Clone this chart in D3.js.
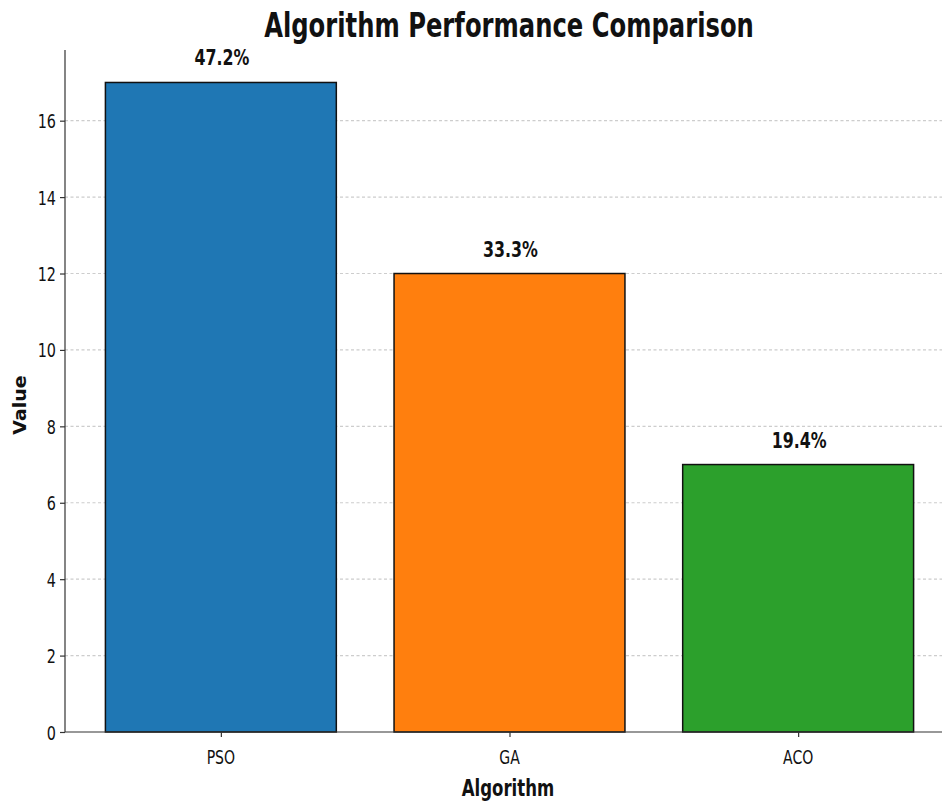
<!DOCTYPE html>
<html><head><meta charset="utf-8">
<script src="https://cdn.jsdelivr.net/npm/d3@7"></script>
<style>body{margin:0;background:#fff}svg{display:block}text{font-family:"DejaVu Sans",sans-serif}</style>
</head><body>
<svg id="c" width="942" height="801"></svg>
<script>
const categories = ["PSO", "GA", "ACO"];
const values = [17, 12, 7];
const colors = ["#1f77b4", "#ff7f0e", "#2ca02c"];
const yTicks = [0, 2, 4, 6, 8, 10, 12, 14, 16];
const titleText = "Algorithm Performance Comparison";
const xLabel = "Algorithm";
const yLabel = "Value";

const total = d3.sum(values);
const svg = d3.select("#c");
const SX = 0.72;
const x = d3.scaleLinear().domain([-0.54, categories.length - 1 + 0.54]).range([65, 954]);
const y = d3.scaleLinear().domain([0, d3.max(values) * 1.05]).range([732, 50]);
const bw = x(0.8) - x(0);

function txt(g, xx, yy, s, size, weight, anchor) {
  return g.append("text")
    .attr("transform", `translate(${xx},${yy}) scale(${SX},1)`)
    .attr("text-anchor", anchor || "middle")
    .style("font-size", size + "px")
    .style("font-weight", weight || "normal")
    .attr("fill", "#111")
    .text(s);
}

// grid
svg.append("g").selectAll("line").data(yTicks.filter(d => d > 0)).join("line")
  .attr("x1", 65).attr("x2", 942)
  .attr("y1", d => y(d)).attr("y2", d => y(d))
  .attr("stroke", "#b8b8b8").attr("stroke-width", 1.2)
  .attr("stroke-dasharray", "3,2.5").attr("opacity", 0.7);

// bars
svg.append("g").selectAll("rect").data(values).join("rect")
  .attr("x", (d, i) => x(i) - bw / 2)
  .attr("y", d => y(d))
  .attr("width", bw)
  .attr("height", d => y(0) - y(d))
  .attr("fill", (d, i) => colors[i])
  .attr("stroke", "#111").attr("stroke-width", 1.5);

// bar labels
values.forEach((v, i) => {
  txt(svg, x(i) + 1, y(v) - 17, (v / total * 100).toFixed(1) + "%", 22, "bold");
});

// axes
const ya = svg.append("g").attr("transform", "translate(65,0)")
  .call(d3.axisLeft(y).tickValues(yTicks).tickSize(5).tickPadding(4).tickFormat(d3.format("d")));
ya.select(".domain").attr("stroke", "#333").attr("stroke-width", 1.2).attr("d", `M0,${y(0)}V50`);
ya.selectAll(".tick line").attr("stroke", "#333").attr("stroke-width", 1.2);
ya.selectAll(".tick text").remove();
yTicks.forEach(t => {
  txt(svg, 56, y(t) + 7.5, String(t), 20, "normal", "end");
});

const xa = svg.append("g").attr("transform", `translate(0,${y(0)})`)
  .call(d3.axisBottom(x).tickValues(categories.map((c, i) => i)).tickSize(5).tickFormat(""));
xa.select(".domain").attr("stroke", "#333").attr("stroke-width", 1.2).attr("d", "M65,0H942");
xa.selectAll(".tick line").attr("stroke", "#333").attr("stroke-width", 1.2);
categories.forEach((c, i) => txt(svg, x(i), 764, c, 19.5, "normal"));

// title & labels
txt(svg, 509, 37, titleText, 33.7, "bold");
txt(svg, 508, 796, xLabel, 23, "bold");
svg.append("text")
  .attr("transform", `translate(26,405) scale(0.95,1) rotate(-90)`)
  .attr("text-anchor", "middle")
  .style("font-size", "19px").style("font-weight", "bold")
  .attr("fill", "#111").text(yLabel);
</script>
</body></html>
